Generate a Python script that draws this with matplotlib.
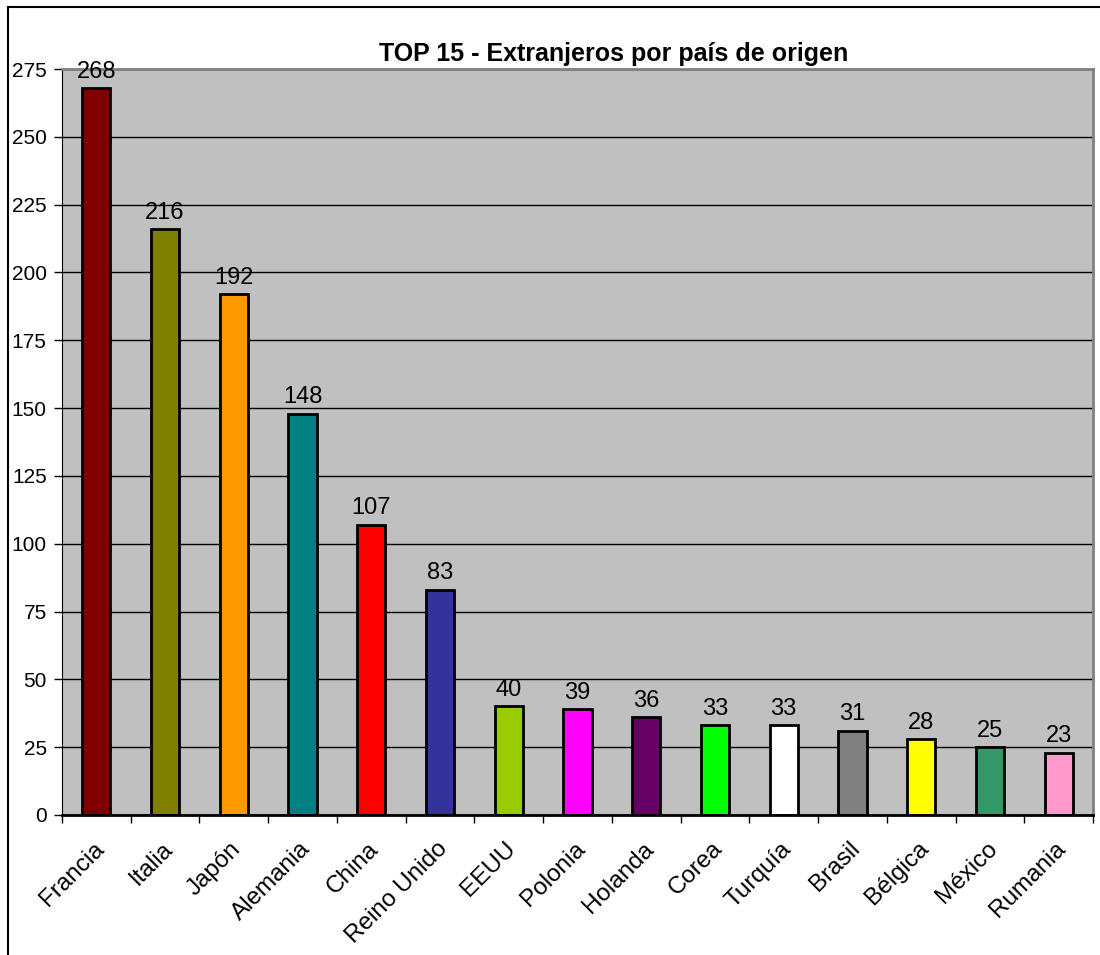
import numpy as np
import matplotlib.pyplot as plt
from matplotlib.lines import Line2D
from matplotlib.transforms import ScaledTranslation

plt.rcParams['font.family'] = ['Liberation Sans', 'DejaVu Sans']

paises = ["Francia", "Italia", "Japón", "Alemania", "China", "Reino Unido", "EEUU",
          "Polonia", "Holanda", "Corea", "Turquía", "Brasil", "Bélgica", "México", "Rumania"]
valores = [268, 216, 192, 148, 107, 83, 40, 39, 36, 33, 33, 31, 28, 25, 23]
colores = ["#800000", "#808000", "#FF9900", "#008080", "#FF0000", "#333399", "#99CC00",
           "#FF00FF", "#660066", "#00FF00", "#FFFFFF", "#808080", "#FFFF00", "#339966", "#FF99CC"]

fig = plt.figure(figsize=(11, 9.55), dpi=100)
ax = fig.add_axes([62/1100, 1 - 815/955, (1093-62)/1100, (815-69)/955])
ax.set_facecolor("#C0C0C0")

x = np.arange(len(paises))
ax.bar(x, valores, width=0.41, color=colores, edgecolor="black", linewidth=2, zorder=3)

for xi, v in zip(x, valores):
    ax.text(xi, v + 2, str(v), ha="center", va="bottom", fontsize=17, zorder=4)

ax.set_xlim(-0.5, len(paises) - 0.5)
ax.set_ylim(0, 275)
ax.set_yticks(np.arange(0, 276, 25))
ax.yaxis.grid(True, color="black", linewidth=1, zorder=1)
ax.tick_params(axis="y", labelsize=15, length=6, width=1, direction="out", pad=5)

ax.set_xticks(x)
ax.set_xticklabels(paises, rotation=45, ha="right", va="center",
                   rotation_mode="anchor", fontsize=17.5)
ax.tick_params(axis="x", which="major", length=0, pad=22)
# pequeño desplazamiento a la derecha de las etiquetas
desplaz = ScaledTranslation(4/100, 0, fig.dpi_scale_trans)
for lbl in ax.get_xticklabels():
    lbl.set_transform(lbl.get_transform() + desplaz)
ax.set_xticks(np.arange(-0.5, len(paises), 1), minor=True)
ax.tick_params(axis="x", which="minor", length=6, width=1, direction="out")

ax.spines["left"].set_color("black")
ax.spines["bottom"].set_color("black")
ax.spines["bottom"].set_linewidth(2)
ax.spines["bottom"].set_zorder(5)
ax.spines["top"].set_color("#808080")
ax.spines["top"].set_linewidth(2)
ax.spines["right"].set_color("#808080")
ax.spines["right"].set_linewidth(2)

ax.set_title("TOP 15 - Extranjeros por país de origen", fontsize=18, fontweight="bold",
             x=0.535, pad=6)

# marco exterior del grafico
fig.add_artist(Line2D([8/1100, 8/1100], [0, 1 - 7/955], color="black", linewidth=1.5))
fig.add_artist(Line2D([8/1100, 1], [1 - 7/955, 1 - 7/955], color="black", linewidth=1.5))

fig.savefig("out.png", dpi=100)
